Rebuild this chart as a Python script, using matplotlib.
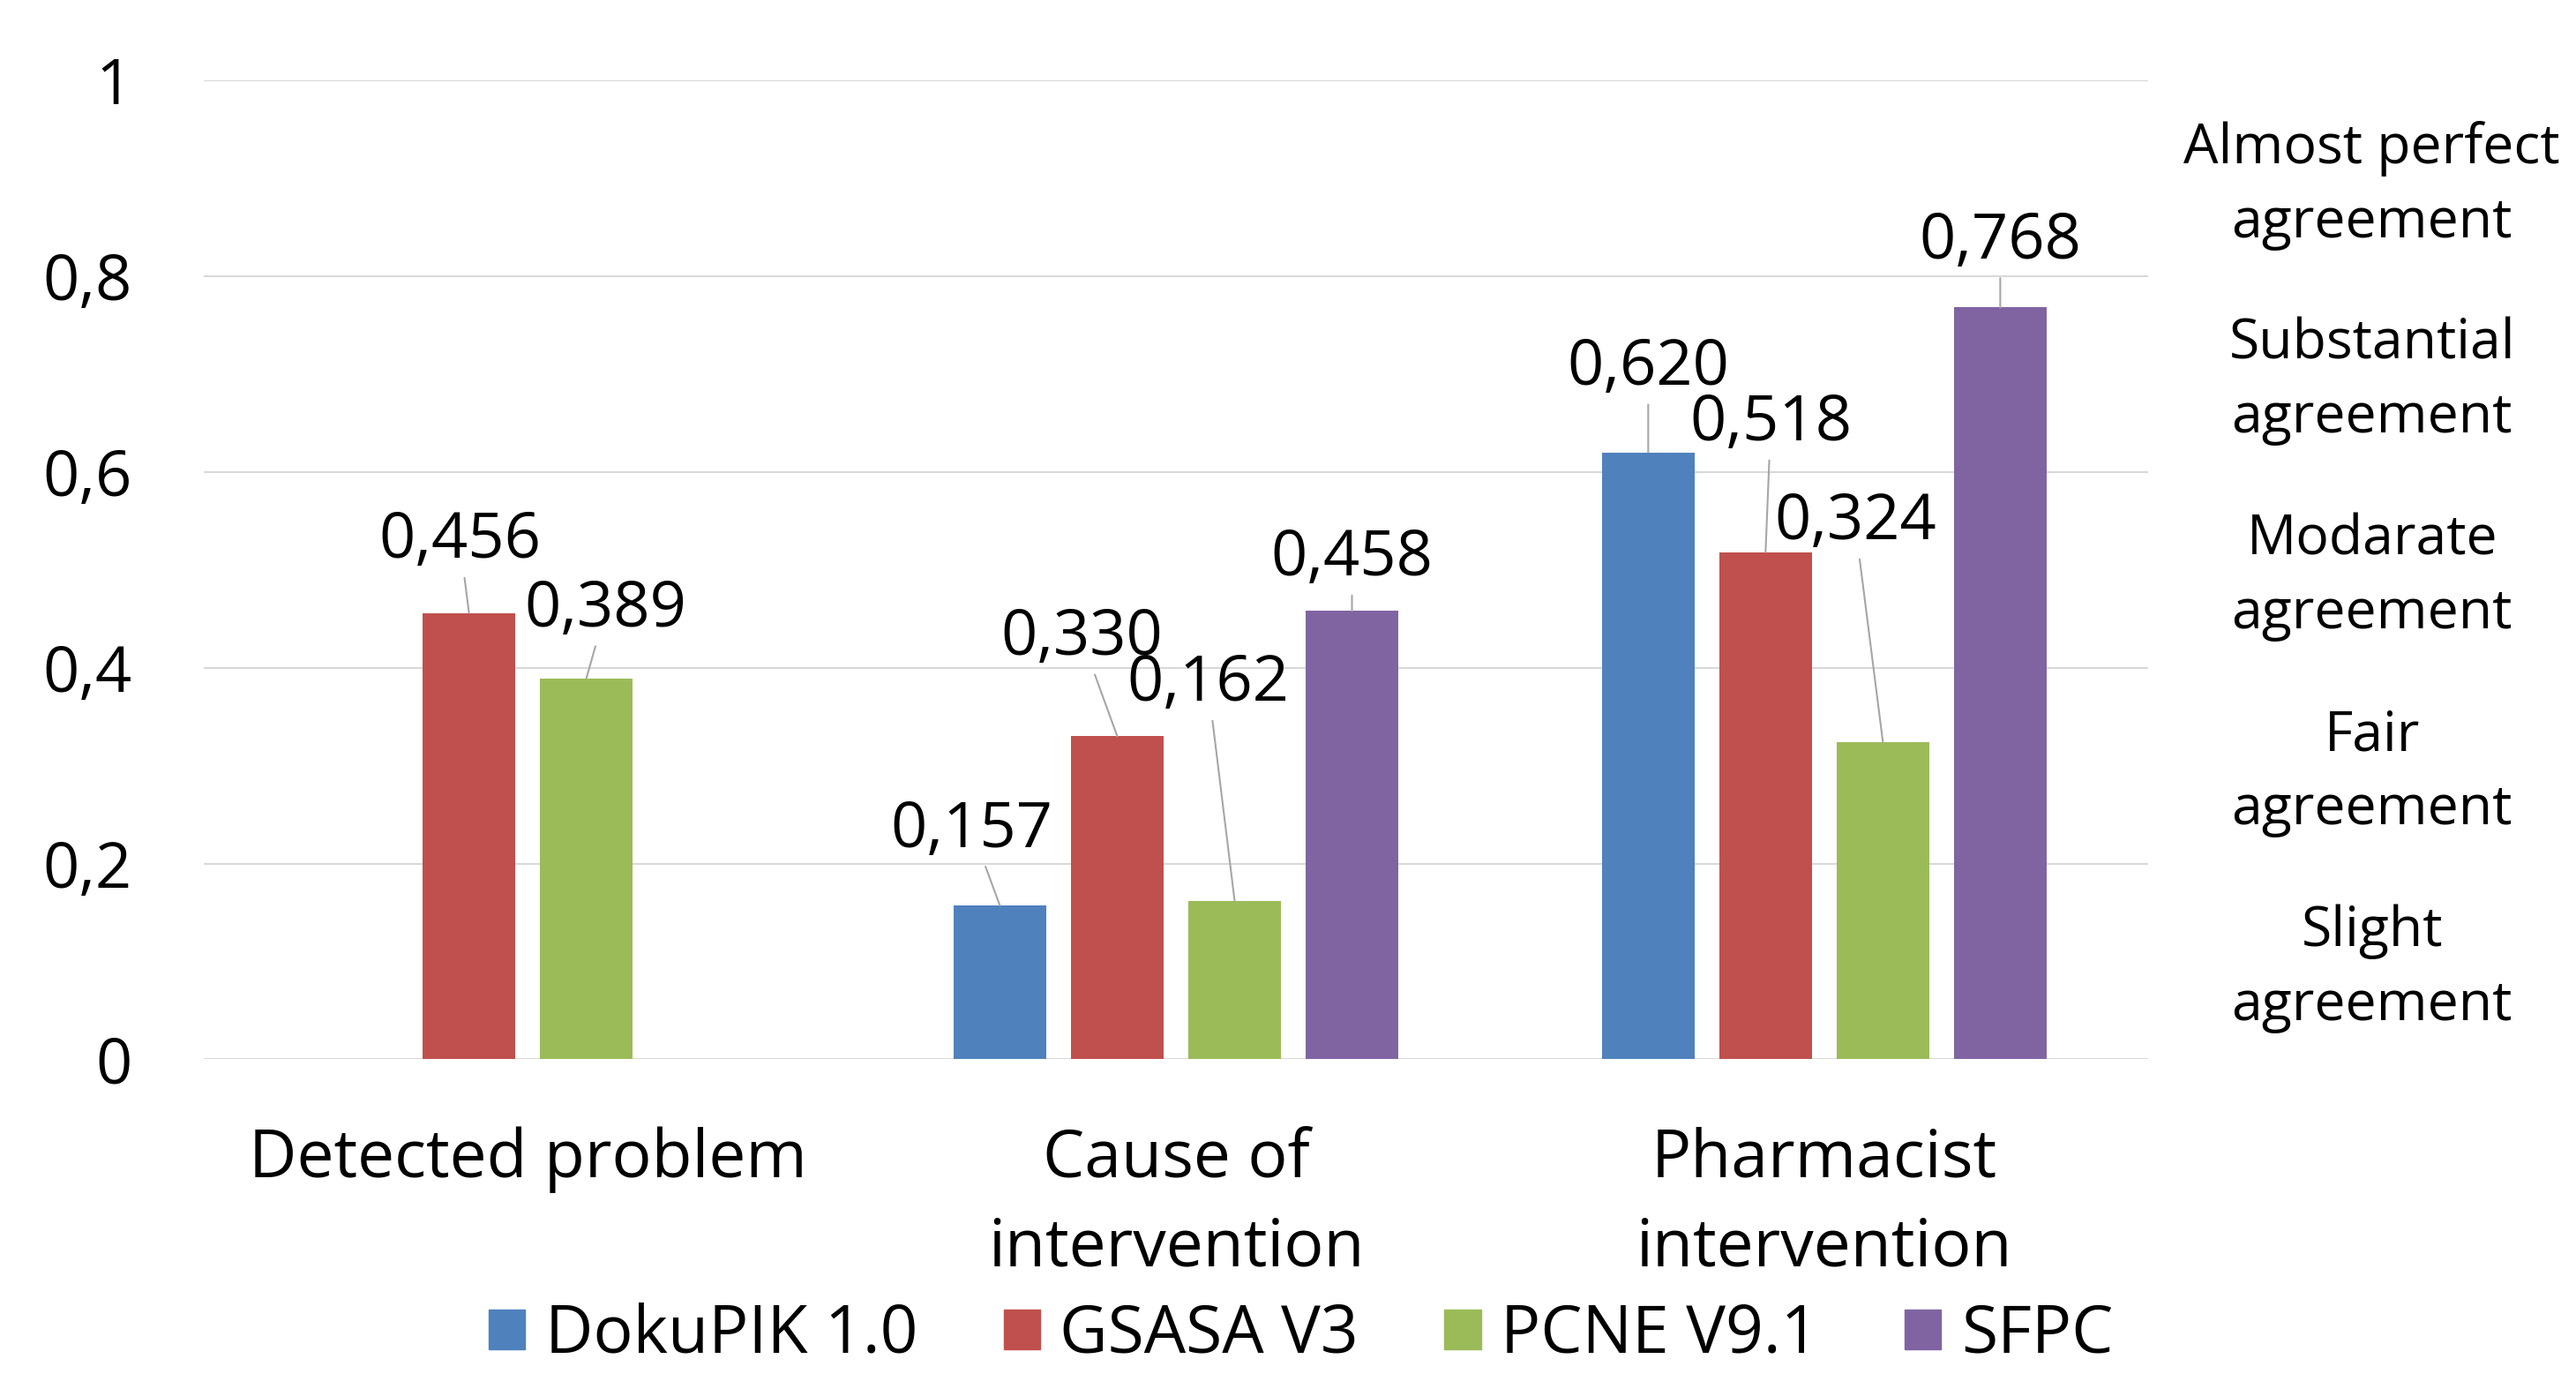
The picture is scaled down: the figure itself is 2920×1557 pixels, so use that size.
import matplotlib
matplotlib.use("Agg")
import matplotlib.pyplot as plt
import matplotlib.transforms as mtransforms
from matplotlib.patches import Patch
import numpy as np

# categories and series
categories = ["Detected problem", "Cause of\nintervention", "Pharmacist\nintervention"]
series = ["DokuPIK 1.0", "GSASA V3", "PCNE V9.1", "SFPC"]
dokupik = [np.nan, 0.157, 0.620]
gsasa = [0.456, 0.330, 0.518]
pcne = [0.389, 0.162, 0.324]
sfpc = [np.nan, 0.458, 0.768]
values = [dokupik, gsasa, pcne, sfpc]

colors = ["#4F81BD", "#C0504D", "#9BBB59", "#8064A2"]

# kappa interpretation bands (label placed mid-band)
band_labels = ["Slight\nagreement", "Fair\nagreement", "Modarate\nagreement",
               "Substantial\nagreement", "Almost perfect\nagreement"]
band_mids = [0.1, 0.3, 0.5, 0.7, 0.9]

# label offsets (dx in category units, dy in value units), per series / category
label_dx = [[0, -0.043, 0.0], [-0.014, -0.055, 0.008],
            [0.030, -0.041, -0.043], [0, 0.0, 0.0]]
label_dy = [[0, 0.077, 0.086], [0.073, 0.100, 0.131],
            [0.070, 0.221, 0.224], [0, 0.053, 0.067]]

plt.rcParams["font.family"] = ["Open Sans", "DejaVu Sans"]

fig = plt.figure(figsize=(29.2, 15.57), dpi=100)
ax = fig.add_axes([0.079, 0.229, 0.755, 0.7126])

x = np.arange(len(categories))
width = 0.142
step = 0.181

for i, (name, vals, col) in enumerate(zip(series, values, colors)):
    valid = [j for j in range(len(categories)) if not np.isnan(vals[j])]
    # center the bars of each group on the bars that actually exist
    for j in valid:
        n_in_group = sum(1 for s in values if not np.isnan(s[j]))
        rank = sum(1 for k in range(i) if not np.isnan(values[k][j]))
        xpos = x[j] + (rank - (n_in_group - 1) / 2) * step
        ax.bar(xpos, vals[j], width, color=col, zorder=3)
        v = vals[j]
        tx = xpos + label_dx[i][j]
        ty = v + label_dy[i][j]
        ax.annotate(
            f"{v:.3f}".replace(".", ","),
            xy=(xpos, v),
            xytext=(tx, ty),
            ha="center",
            va="center",
            fontsize=52,
            arrowprops=dict(arrowstyle="-", color="#A6A6A6", lw=1.5,
                            shrinkA=2, shrinkB=0),
            zorder=4,
        )

ax.set_xlim(-0.5, len(categories) - 0.5)
ax.set_ylim(0, 1)
ax.set_yticks(np.arange(0, 1.01, 0.2))
ax.set_yticklabels(["0", "0,2", "0,4", "0,6", "0,8", "1"], fontsize=52)
ax.set_xticks(x)
ax.set_xticklabels(categories, fontsize=54, linespacing=1.45)
ax.tick_params(axis="y", length=0, pad=58)
ax.tick_params(axis="x", length=0, pad=55)
ax.grid(axis="y", color="#D9D9D9", linewidth=1.5, zorder=0)
for s in ax.spines.values():
    s.set_visible(False)

# band labels sit a touch below the band middle
band_tr = ax.get_yaxis_transform() + mtransforms.ScaledTranslation(
    0, -6 / 72, fig.dpi_scale_trans)
for lab, mid in zip(band_labels, band_mids):
    ax.text(1.115, mid, lab, transform=band_tr,
            ha="center", va="center", fontsize=45, linespacing=1.45)

handles = [Patch(color=c, label=s) for c, s in zip(colors, series)]
fig.legend(handles=handles, loc="center", bbox_to_anchor=(0.505, 0.028),
           ncol=4, frameon=False, fontsize=54, handlelength=0.55,
           handleheight=0.55, handletextpad=0.3, columnspacing=1.3,
           borderpad=0)

fig.savefig("out.png", dpi=100)
